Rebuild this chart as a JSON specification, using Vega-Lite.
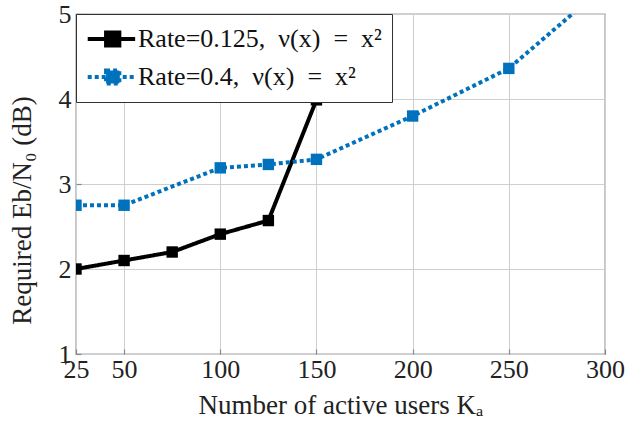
{
  "$schema": "https://vega.github.io/schema/vega-lite/v6.json",
  "width": 529,
  "height": 340,
  "autosize": "none",
  "padding": {"left": 76, "top": 14, "right": 21, "bottom": 72},
  "config": {
    "font": "Liberation Serif",
    "view": {"stroke": "#444", "strokeWidth": 1.2},
    "axis": {
      "labelFont": "Liberation Serif",
      "titleFont": "Liberation Serif",
      "labelFontSize": 26,
      "titleFontSize": 27,
      "titleFontWeight": "normal",
      "labelColor": "#222",
      "titleColor": "#222",
      "domain": false,
      "gridColor": "#cfcfcf",
      "gridWidth": 1,
      "gridOpacity": 1,
      "ticks": true,
      "tickSize": -5,
      "tickColor": "#888",
      "tickWidth": 1.2
    }
  },
  "data": {
    "values": [
      {"series": "Rate=0.125, ν(x) = x²", "users": 25, "ebn0": 2.0},
      {"series": "Rate=0.125, ν(x) = x²", "users": 50, "ebn0": 2.1},
      {"series": "Rate=0.125, ν(x) = x²", "users": 75, "ebn0": 2.2},
      {"series": "Rate=0.125, ν(x) = x²", "users": 100, "ebn0": 2.41},
      {"series": "Rate=0.125, ν(x) = x²", "users": 125, "ebn0": 2.57},
      {"series": "Rate=0.125, ν(x) = x²", "users": 150, "ebn0": 3.99},
      {"series": "Rate=0.4, ν(x) = x²", "users": 25, "ebn0": 2.75},
      {"series": "Rate=0.4, ν(x) = x²", "users": 50, "ebn0": 2.75},
      {"series": "Rate=0.4, ν(x) = x²", "users": 100, "ebn0": 3.19},
      {"series": "Rate=0.4, ν(x) = x²", "users": 125, "ebn0": 3.23},
      {"series": "Rate=0.4, ν(x) = x²", "users": 150, "ebn0": 3.29},
      {"series": "Rate=0.4, ν(x) = x²", "users": 200, "ebn0": 3.8},
      {"series": "Rate=0.4, ν(x) = x²", "users": 250, "ebn0": 4.36},
      {"series": "Rate=0.4, ν(x) = x²", "users": 300, "ebn0": 5.33}
    ]
  },
  "encoding": {
    "x": {
      "field": "users",
      "type": "quantitative",
      "scale": {"domain": [25, 300], "nice": false, "zero": false},
      "axis": {"values": [25, 50, 100, 150, 200, 250, 300], "title": "Number of active users Kₐ", "labelPadding": 7, "titlePadding": 10, "labelFlush": false}
    },
    "y": {
      "field": "ebn0",
      "type": "quantitative",
      "scale": {"domain": [1, 5], "nice": false, "zero": false},
      "axis": {"values": [1, 2, 3, 4, 5], "title": "Required Eb/N₀ (dB)", "labelPadding": 10, "titlePadding": 22, "titleY": 196, "labelFlush": false}
    },
    "color": {
      "field": "series",
      "type": "nominal",
      "scale": {"domain": ["Rate=0.125, ν(x) = x²", "Rate=0.4, ν(x) = x²"], "range": ["#000000", "#0072BD"]},
      "legend": {
        "title": null,
        "orient": "none",
        "legendX": 0,
        "legendY": 0,
        "fillColor": "white",
        "strokeColor": "#333",
        "padding": 10,
        "labelFontSize": 26,
        "labelFont": "Liberation Serif",
        "labelColor": "#111",
        "labelLimit": 400,
        "labelExpr": "replace(replace(datum.label, ', ', ',\u2002'), ' = ', '\u2002=\u2002')",
        "symbolType": "M-1.05,0H2.7M0.4,-0.52H1.45V0.52H0.4Z",
        "symbolSize": 640,
        "symbolStrokeWidth": 4,
        "rowPadding": 8,
        "labelOffset": 22
      }
    },
    "strokeDash": {
      "field": "series",
      "type": "nominal",
      "scale": {"domain": ["Rate=0.125, ν(x) = x²", "Rate=0.4, ν(x) = x²"], "range": [[1, 0], [4, 3]]},
      "legend": null
    }
  },
  "layer": [
    {"mark": {"type": "line", "strokeWidth": 4, "clip": true}},
    {"mark": {"type": "point", "shape": "square", "filled": true, "size": 130, "opacity": 1, "clip": true}}
  ]
}
